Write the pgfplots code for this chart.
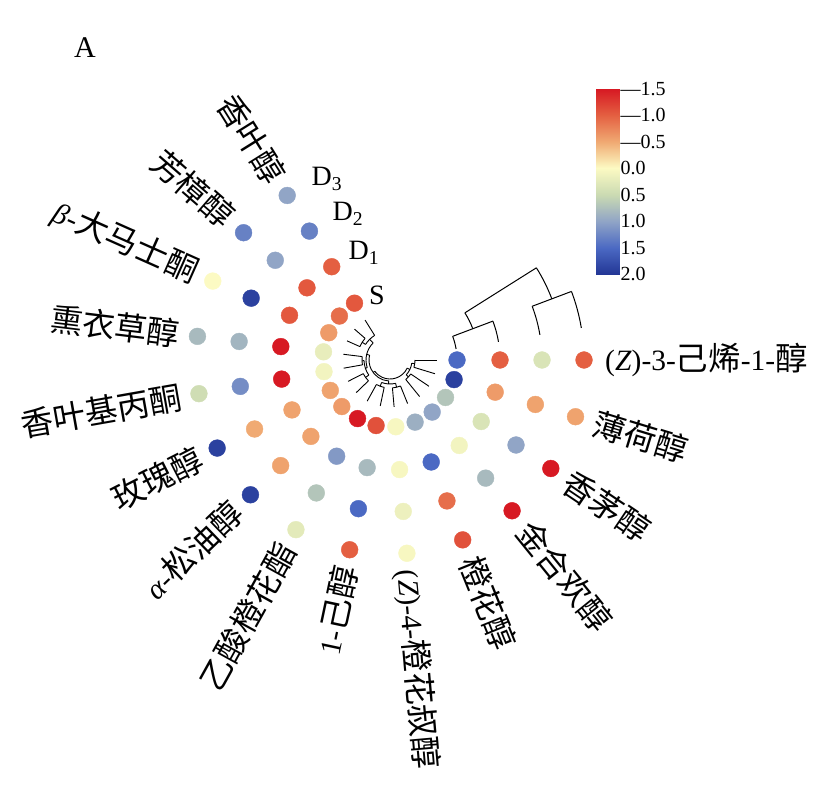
\documentclass[border=0pt]{standalone}
\usepackage{fontspec}
\setmainfont{Liberation Serif}
\newfontfamily\cjk[Scale=1.1]{Noto Sans CJK SC}
\usepackage{pgfplots}
\pgfplotsset{compat=1.18}
\usepackage{pgfplotstable}
\newcommand{\zh}[1]{{\cjk #1}}
\pgfplotsset{
  colormap={heatm}{rgb255=(215,25,35) rgb255=(228,95,65) rgb255=(240,170,115) rgb255=(252,250,195) rgb255=(202,218,178) rgb255=(145,165,198) rgb255=(75,105,195) rgb255=(35,55,150)}
}
% angle (deg, math), radius, value ; rings S=67, D1=110, D2=152, D3=194
\pgfplotstableread{
a r v
0 67 1.5
0 110 -1.0
0 152 0.35
0 194 -1.0
-17 67 1.9
-17 110 -0.6
-17 152 -0.55
-17 194 -0.55
-34 67 0.7
-34 110 0.35
-34 152 1.0
-34 194 -1.5
-51 67 1.0
-51 110 0.1
-51 152 0.8
-51 194 -1.5
-68 67 0.9
-68 110 1.5
-68 152 -0.9
-68 194 -1.1
-85 67 0.05
-85 110 0.05
-85 152 0.15
-85 194 0.05
-102 67 -1.1
-102 110 0.8
-102 152 1.5
-102 194 -1.0
-119 67 -1.5
-119 110 1.1
-119 152 0.7
-119 194 0.25
-136 67 -0.6
-136 110 -0.55
-136 152 -0.55
-136 194 1.9
-153 67 -0.55
-153 110 -0.55
-153 152 -0.5
-153 194 1.9
-170 67 0.1
-170 110 -1.5
-170 152 1.2
-170 194 0.45
-187 67 0.2
-187 110 -1.5
-187 152 0.85
-187 194 0.8
-204 67 -0.6
-204 110 -1.05
-204 152 1.9
-204 194 0.0
-221 67 -0.9
-221 110 -1.05
-221 152 1.0
-221 194 1.3
-238 67 -1.05
-238 110 -1.0
-238 152 1.3
-238 194 1.0
}\heat
\begin{document}
\begin{tikzpicture}
\begin{axis}[x=1pt,y=1pt,xmin=-390,xmax=450,ymin=-436,ymax=360,
  hide axis,clip=false,colormap name=heatm,
  point meta min=-1.5,point meta max=2]
\path (axis cs:-390,-436) rectangle (axis cs:450,360);
\addplot[scatter,only marks,mark=*,mark size=8.4pt,data cs=polar,
  scatter src=explicit,
  scatter/use mapped color={draw=mapped color,fill=mapped color}]
  table[x=a,y=r,meta=v]{\heat};
\end{axis}
% colour bar
\begin{axis}[at={(596pt,522pt)},anchor=south west,width=23pt,height=185pt,
  scale only axis,xmin=0,xmax=1,ymin=-1.5,ymax=2,y dir=reverse,
  enlargelimits=false,colormap name=heatm,point meta min=-1.5,point meta max=2,
  xtick=\empty,ytick={-1.5,-1,-0.5,0,0.5,1,1.5,2},
  yticklabels={—1.5,—1.0,—0.5,0.0,0.5,1.0,1.5,2.0},
  ytick pos=right,yticklabel pos=right,tick align=inside,
  major tick length=9pt,tick style={black!85,line width=0.9pt},
  axis line style={draw=none},
  yticklabel style={font=\fontsize{20}{20}\selectfont,inner sep=1.5pt}]
\addplot[surf,shader=interp,mesh/cols=2,point meta=y] coordinates {
(0,-1.5) (1,-1.5)
(0,-1) (1,-1)
(0,-0.5) (1,-0.5)
(0,0) (1,0)
(0,0.5) (1,0.5)
(0,1) (1,1)
(0,1.5) (1,1.5)
(0,2) (1,2)
};
\end{axis}
\begin{scope}[shift={(390pt,436pt)}]
% inner (compound) dendrogram
\begin{scope}[line width=0.9pt]
\foreach \k/\r in {0/25,1/25,2/25,3/25,4/28,5/28,6/28,7/28,8/30,9/30,10/28,11/28,12/33,13/33,14/29}
  {\draw ({-17*\k}:\r pt) -- ({-17*\k}:47pt);}
\foreach \a/\ra/\rb in {8.5/22/25,42.5/22/25,25.5/19/22,76.5/24/28,110.5/24/28,93.5/21/24,144.5/26/30,178.5/26/28,161.5/24/26,212.5/29/33,225.25/24/29,193.375/21/24,143.4375/19/21}
  {\draw (-\a:\ra pt) -- (-\a:\rb pt);}
\foreach \a/\b/\r in {0/17/25,34/51/25,8.5/42.5/22,68/85/28,102/119/28,76.5/110.5/24,136/153/30,170/187/28,144.5/178.5/26,204/221/33,212.5/238/29,161.5/225.25/24,93.5/193.375/21,25.5/143.4375/19}
  {\draw (-\a:\r pt) arc[start angle=-\a,end angle=-\b,radius=\r pt];}
\end{scope}
% ring dendrogram
\begin{scope}[line width=1pt]
\foreach \r in {67,110,152,194}
  {\draw (9.5:\r pt) arc[start angle=9.5,end angle=20.7,radius=\r pt];}
\draw (20.7:67pt) -- (20.7:110pt);
\draw (20.7:152pt) -- (20.7:194pt);
\draw (20.7:88.5pt) arc[start angle=20.7,end angle=32.2,radius=88.5pt];
\draw (20.7:173pt) arc[start angle=20.7,end angle=32.2,radius=173pt];
\draw (32.2:88.5pt) -- (32.2:173pt);
\end{scope}
% ring labels
\begin{scope}[font=\fontsize{28}{28}\selectfont]
\node at (-63pt,181pt) {D\textsubscript{3}};
\node at (-42pt,146pt) {D\textsubscript{2}};
\node at (-26pt,107pt) {D\textsubscript{1}};
\node at (-13pt,65pt) {S};
\end{scope}
\node[font=\fontsize{30}{30}\selectfont] at (-305pt,312pt) {A};
% compound labels
\begin{scope}[font=\fontsize{29.5}{30}\selectfont,inner sep=0pt]
\node[rotate=0,anchor=west] at (0:215pt) {(\textit{Z})-3-\zh{己烯}-1-\zh{醇}};
\node[rotate=-17,anchor=west] at (-17:213pt) {\zh{薄荷醇}};
\node[rotate=-34,anchor=west] at (-34:213pt) {\zh{香茅醇}};
\node[rotate=-51,anchor=west] at (-51:213pt) {\zh{金合欢醇}};
\node[rotate=-68,anchor=west] at (-68:213pt) {\zh{橙花醇}};
\node[rotate=-85,anchor=west] at (-85:210pt) {(\textit{Z})-4-\zh{橙花叔醇}};
\node[rotate=78,anchor=east] at (-102:211pt) {1-\zh{己醇}};
\node[rotate=61,anchor=east] at (-119:212pt) {\zh{乙酸橙花酯}};
\node[rotate=44,anchor=east] at (-136:212pt) {\textit{α}-\zh{松油醇}};
\node[rotate=27,anchor=east] at (-153:212pt) {\zh{玫瑰醇}};
\node[rotate=10,anchor=east] at (-170:212pt) {\zh{香叶基丙酮}};
\node[rotate=-7,anchor=east] at (-187:212pt) {\zh{熏衣草醇}};
\node[rotate=-24,anchor=east] at (-204:212pt) {\textit{β}-\zh{大马士酮}};
\node[rotate=-41,anchor=east] at (-221:212pt) {\zh{芳樟醇}};
\node[rotate=-58,anchor=east] at (-238:212pt) {\zh{香叶醇}};
\end{scope}
\end{scope}
\end{tikzpicture}
\end{document}
